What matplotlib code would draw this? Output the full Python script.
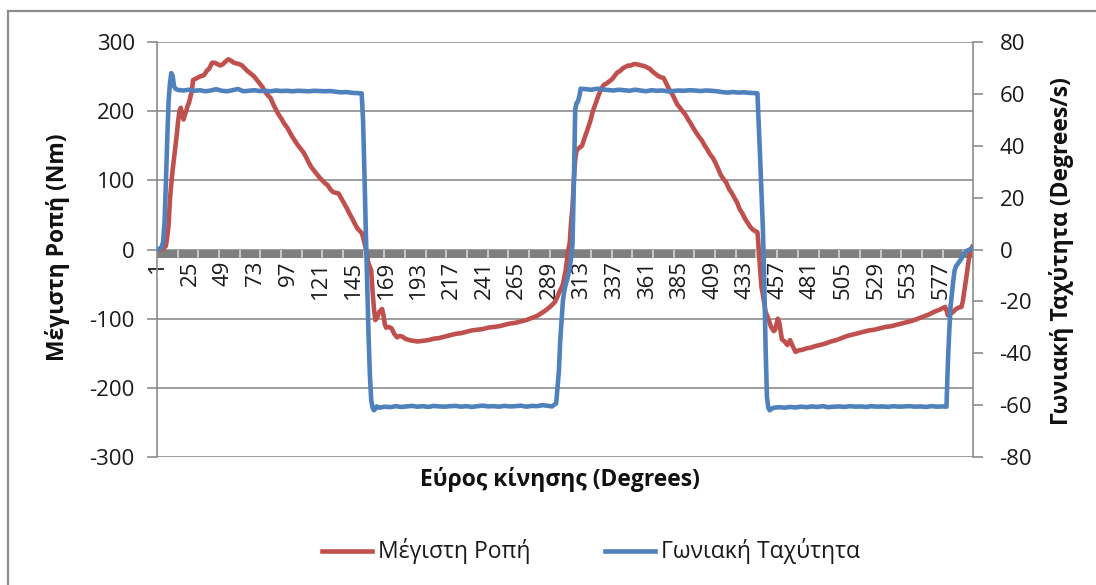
import matplotlib
matplotlib.use("Agg")
import matplotlib.pyplot as plt
from matplotlib.lines import Line2D
import numpy as np

plt.rcParams['font.family'] = ['Open Sans', 'DejaVu Sans']

# ---------------- data ----------------
n_categories = 600
tick_labels = list(range(1, 578, 24))

torque_x = [1, 3, 5, 7, 8, 9, 10, 11, 12, 13, 14, 15, 16, 17, 18, 19, 20, 21, 22, 23, 24,
            26, 27, 29, 32, 35, 37, 39, 41, 43, 45, 47, 49, 51, 53, 55, 57, 59, 61, 63, 65,
            67, 69, 72, 74, 76, 78, 80, 82, 84, 86, 88, 90, 92, 94, 96, 98, 100, 102, 104,
            106, 108, 110, 112, 114, 116, 118, 120, 122, 124, 126, 128, 130, 132, 134, 136,
            138, 140, 142, 144, 146, 148, 150, 151, 152, 153, 154, 155, 156, 158, 159, 160,
            161, 162, 164, 166, 167, 168, 169, 171, 173, 175, 177, 179, 181, 183, 186, 189,
            192, 196, 200, 204, 208, 212, 216, 220, 224, 228, 232, 236, 240, 244, 248, 252,
            256, 260, 264, 268, 272, 276, 280, 284, 287, 290, 293, 295, 296, 298, 299, 300,
            301, 302, 303, 304, 305, 306, 307, 308, 309, 311, 313, 315, 317, 319, 321, 323,
            325, 327, 329, 331, 333, 335, 337, 339, 341, 343, 345, 347, 349, 351, 353, 355,
            357, 359, 361, 363, 365, 367, 369, 371, 373, 375, 377, 379, 381, 383, 385, 387,
            389, 391, 393, 395, 397, 399, 401, 403, 405, 407, 409, 411, 413, 415, 417, 419,
            421, 423, 425, 427, 429, 431, 433, 435, 437, 439, 441, 442, 443, 444, 445, 446,
            447, 448, 450, 452, 454, 455, 457, 458, 460, 462, 464, 466, 468, 470, 472, 475,
            478, 481, 484, 488, 492, 496, 500, 504, 508, 512, 516, 520, 524, 528, 532, 536,
            540, 544, 548, 552, 556, 560, 564, 568, 572, 576, 580, 581, 582, 584, 586, 588,
            590, 592, 593, 594, 595, 596, 597, 598, 599, 600]
torque_y = [0, 0, 1, 5, 18, 35, 72, 95, 115, 132, 150, 165, 185, 200, 205, 195, 188, 195, 200, 208, 212,
            228, 245, 247, 250, 252, 258, 262, 270, 270, 268, 266, 268, 272, 275, 273, 270, 269, 268, 266, 262,
            258, 255, 250, 245, 240, 235, 228, 223, 219, 210, 202, 195, 189, 182, 177, 170, 163, 157, 151,
            146, 141, 134, 126, 119, 114, 109, 104, 100, 96, 93, 87, 83, 82, 81, 74,
            67, 60, 52, 45, 37, 30, 26, 24, 18, 10, 2, -10, -20, -30, -60, -85,
            -102, -100, -90, -86, -95, -108, -113, -112, -114, -122, -127, -125, -126, -129, -131, -132,
            -133, -132, -131, -129, -128, -126, -124, -122, -121, -119, -117, -116, -115, -113, -112, -111,
            -109, -107, -106, -104, -102, -99, -96, -91, -87, -82, -76, -68, -63, -55, -50, -40,
            -30, -15, 0, 10, 40, 60, 100, 130, 143, 147, 150, 162, 173, 185, 200, 211,
            222, 232, 238, 240, 243, 246, 251, 256, 258, 262, 264, 266, 266, 268, 268, 267,
            266, 265, 263, 261, 257, 254, 251, 249, 248, 240, 232, 226, 218, 210, 205, 200,
            195, 188, 182, 175, 169, 163, 158, 151, 145, 138, 133, 126, 117, 108, 102, 97,
            88, 82, 75, 68, 58, 52, 44, 38, 32, 28, 26, 25, 0, -30, -55, -65,
            -78, -90, -100, -112, -118, -116, -100, -105, -130, -133, -138, -131, -140, -148, -146, -145,
            -143, -142, -140, -138, -136, -133, -131, -128, -125, -123, -121, -119, -117, -116, -114, -112,
            -111, -109, -107, -105, -103, -100, -97, -94, -90, -87, -83, -88, -95, -93, -90, -86,
            -84, -83, -75, -62, -50, -35, -20, -8, 0, 4]

velocity_x = [1, 3, 4, 5, 6, 7, 8, 9, 10, 11, 12, 13, 14, 16, 20, 24, 28, 32, 36, 40, 44, 48,
              52, 56, 60, 64, 68, 72, 76, 80, 84, 88, 92, 96, 100, 104, 108, 112, 116, 120,
              124, 128, 132, 136, 140, 144, 148, 151, 152, 153, 154, 155, 156, 157, 158, 159,
              160, 161, 162, 164, 168, 172, 176, 180, 184, 188, 192, 196, 200, 204, 208, 212,
              216, 220, 224, 228, 232, 236, 240, 244, 248, 252, 256, 260, 264, 268, 272, 276,
              280, 284, 288, 291, 294, 295, 296, 297, 298, 299, 300, 301, 302, 304, 305, 306,
              307, 308, 309, 310, 311, 312, 316, 320, 324, 328, 332, 336, 340, 344, 348, 352,
              356, 360, 364, 368, 372, 376, 380, 384, 388, 392, 396, 400, 404, 408, 412, 416,
              420, 424, 428, 432, 436, 440, 442, 443, 444, 445, 446, 447, 448, 449, 450, 451,
              452, 454, 458, 462, 466, 470, 474, 478, 482, 486, 490, 494, 498, 502, 506, 510,
              514, 518, 522, 526, 530, 534, 538, 542, 546, 550, 554, 558, 562, 566, 570, 574,
              578, 581, 582, 583, 584, 585, 586, 587, 588, 590, 592, 594, 596, 598, 600]
velocity_y = [0, 0.5, 1, 3, 10, 25, 42, 57, 64, 68, 67, 63, 62, 61.5, 61.3, 61.6, 61.2, 61.4, 61.0, 61.3, 61.8, 61.2,
              61.0, 61.4, 61.9, 61.0, 61.2, 61.4, 61.1, 61.2, 61.0, 61.3, 61.1, 61.2, 61.0, 61.2, 61.1, 61.0, 61.2, 61.1,
              61.0, 61.1, 60.8, 60.6, 60.7, 60.4, 60.3, 60.2, 50, 30, 8, -12, -32, -48, -58, -61,
              -62, -61.5, -60.5, -61, -60.6, -60.8, -60.4, -60.7, -60.5, -60.3, -60.6, -60.4, -60.7, -60.3, -60.5, -60.6,
              -60.4, -60.3, -60.6, -60.4, -60.7, -60.4, -60.2, -60.5, -60.4, -60.6, -60.3, -60.5, -60.4, -60.2, -60.6, -60.3,
              -60.4, -60.0, -60.3, -60.5, -59.3, -53, -47, -35, -27, -19.5, -16, -13.5, -11.8, -7, -3, 2,
              25, 54, 56.5, 57, 59, 62, 61.8, 61.6, 62.0, 61.7, 61.5, 61.3, 61.6, 61.4, 61.2, 61.6,
              61.3, 61.0, 61.4, 61.2, 61.3, 61.0, 61.1, 61.3, 61.2, 61.4, 61.3, 61.1, 61.3, 61.2, 61.0, 60.7,
              60.5, 60.7, 60.5, 60.6, 60.4, 60.3, 60.2, 48, 35, 22, 8, -12, -38, -57, -61, -62,
              -61.5, -61, -60.8, -61, -60.7, -60.9, -60.6, -60.8, -60.5, -60.7, -60.4, -60.8, -60.6, -60.5, -60.7, -60.4,
              -60.6, -60.5, -60.7, -60.4, -60.6, -60.5, -60.7, -60.4, -60.6, -60.5, -60.4, -60.6, -60.5, -60.7, -60.4, -60.6,
              -60.5, -60.6, -44, -32, -22, -17, -12, -8, -6.5, -5, -3.5, -1.5, -0.5, 0, 0.5]

left_ticks = [-300, -200, -100, 0, 100, 200, 300]
right_ticks = [-80, -60, -40, -20, 0, 20, 40, 60, 80]

# ---------------- figure ----------------
W, H = 1096, 585
fig = plt.figure(figsize=(W / 100, H / 100), dpi=100)
fig.patch.set_facecolor('white')

ax_l, ax_r, ax_t, ax_b = 157, 973, 42, 457
ax = fig.add_axes([ax_l / W, 1 - ax_b / H, (ax_r - ax_l) / W, (ax_b - ax_t) / H])
ax2 = ax.twinx()

grid_c = '#8c8c8c'
red = '#C0504D'
blue = '#4F81BD'
txt_c = '#1a1a1a'
tick_fs = 16
title_fs = 16.5

ax.set_xlim(0.5, n_categories + 0.5)
ax.set_ylim(-300, 300)
ax2.set_ylim(-80, 80)

for s in ['top', 'bottom', 'right']:
    ax.spines[s].set_visible(False)
for s in ['top', 'bottom', 'left']:
    ax2.spines[s].set_visible(False)
ax.spines['left'].set_color(grid_c)
ax.spines['left'].set_linewidth(1.2)
ax2.spines['right'].set_color(grid_c)
ax2.spines['right'].set_linewidth(1.2)

ax.set_yticks(left_ticks)
ax.set_yticklabels([str(v) for v in left_ticks])
ax2.set_yticks(right_ticks)
ax2.set_yticklabels([str(v) for v in right_ticks])
ax.tick_params(axis='y', length=7, width=1.2, color=grid_c, labelsize=tick_fs, pad=9, labelcolor=txt_c)
ax2.tick_params(axis='y', length=7, width=1.2, color=grid_c, labelsize=tick_fs, pad=12, labelcolor=txt_c)
ax.grid(axis='y', color=grid_c, linewidth=1.2)
ax.set_axisbelow(True)

# category axis: labels hang below the zero band
ax.set_xticks([])
band_depth = 12
ax.axhspan(-band_depth, 0, color='#7f7f7f', zorder=1.5, linewidth=0)
minor_pos = np.arange(0.5, n_categories + 0.5, 15.2)[1:]
ax.vlines(minor_pos, -band_depth, 0, colors='#d0d0d0', linewidth=1.3, zorder=1.6)
for c in tick_labels:
    ax.text(c, -band_depth - 4, str(c), rotation=90, ha='center', va='top',
            fontsize=tick_fs, color=txt_c, zorder=2)

# series
ax.plot(torque_x, torque_y, color=red, linewidth=3.3, solid_joinstyle='round', zorder=3)
ax2.plot(velocity_x, velocity_y, color=blue, linewidth=3.3, solid_joinstyle='round', zorder=3)
ax.set_zorder(ax2.get_zorder() - 1)
ax.patch.set_visible(False)
ax2.patch.set_visible(False)

# axis titles
fig.text(58 / W, 1 - 247 / H, 'Μέγιστη Ροπή (Nm)', rotation=90, ha='center', va='center',
         fontsize=title_fs, fontweight='bold', color='#111111')
fig.text(1062 / W, 1 - 251 / H, 'Γωνιακή Ταχύτητα (Degrees/s)', rotation=90, ha='center', va='center',
         fontsize=title_fs, fontweight='bold', color='#111111')
fig.text(560 / W, 1 - 480 / H, 'Εύρος κίνησης (Degrees)', ha='center', va='center',
         fontsize=title_fs, fontweight='bold', color='#111111')

# legend
ly = 1 - 551 / H
fig.add_artist(Line2D([322 / W, 372 / W], [ly, ly], color=red, linewidth=3.3, transform=fig.transFigure))
fig.text(378 / W, ly, 'Μέγιστη Ροπή', ha='left', va='center', fontsize=title_fs, color=txt_c)
fig.add_artist(Line2D([605 / W, 655 / W], [ly, ly], color=blue, linewidth=3.3, transform=fig.transFigure))
fig.text(661 / W, ly, 'Γωνιακή Ταχύτητα', ha='left', va='center', fontsize=title_fs, color=txt_c)

# outer chart border (left and top visible)
fig.add_artist(Line2D([8 / W, 8 / W], [0, 1 - 11 / H], color='#8c8c8c', linewidth=1.6, transform=fig.transFigure))
fig.add_artist(Line2D([8 / W, 1], [1 - 11 / H, 1 - 11 / H], color='#8c8c8c', linewidth=1.6, transform=fig.transFigure))

fig.savefig('out.png', dpi=100, facecolor='white')
